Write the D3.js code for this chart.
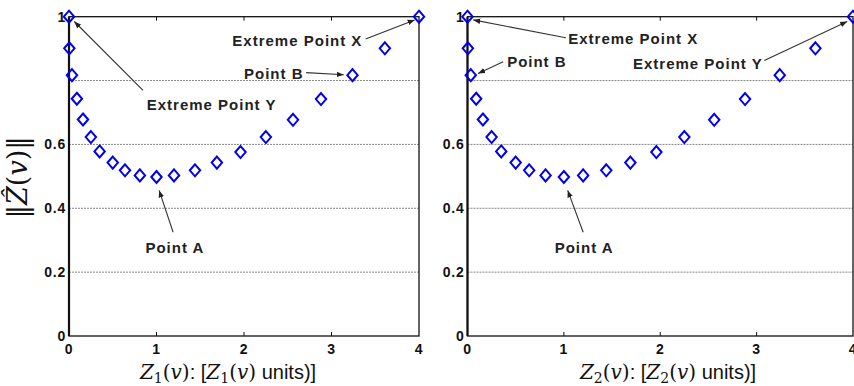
<!DOCTYPE html>
<html>
<head>
<meta charset="utf-8">
<script src="https://cdn.jsdelivr.net/npm/d3@7"></script>
<style>
  body { margin: 0; background: #fff; }
  svg { display: block; }
  .tick-lbl { font-family: "Liberation Sans", Arial, sans-serif; font-weight: bold; font-size: 14px; letter-spacing: 0.8px; fill: #111; }
  .note { font-family: "Liberation Sans", Arial, sans-serif; font-weight: bold; font-size: 15px; letter-spacing: 1px; fill: #222; }
</style>
</head>
<body>
<svg id="chart" width="854" height="386"></svg>
<script>
// same sampled curve is shown in both panels
var xVals = [0, 0.004, 0.034, 0.09, 0.16, 0.25, 0.35, 0.50, 0.64, 0.81, 1.0, 1.20, 1.44, 1.69, 1.96, 2.25, 2.56, 2.88, 3.24, 3.61, 4.0];
var yVals = [1.0, 0.901, 0.817, 0.743, 0.678, 0.623, 0.578, 0.543, 0.519, 0.503, 0.498, 0.503, 0.519, 0.543, 0.576, 0.623, 0.677, 0.742, 0.817, 0.901, 1.0];

var xTicks = [0, 1, 2, 3, 4];
var yTicks = [0, 0.2, 0.4, 0.6, 0.8, 1];
var yTickLabels = ["0", "0.2", "0.4", "0.6", "", "1"];
var gridVals = [0.2, 0.4, 0.6, 0.8];

// annotations: label, label x/y, arrow start, arrow end (data units)
var notesLeft = [
  {text: "Extreme Point X", x: 2.61, y: 0.925, x1: 3.39, y1: 0.93, x2: 3.95, y2: 0.99},
  {text: "Point B", x: 2.34, y: 0.822, x1: 2.71, y1: 0.825, x2: 3.14, y2: 0.818},
  {text: "Extreme Point Y", x: 1.63, y: 0.725, x1: 0.846, y1: 0.769, x2: 0.06, y2: 0.985},
  {text: "Point A", x: 1.21, y: 0.278, x1: 1.19, y1: 0.325, x2: 1.03, y2: 0.456}
];
var notesRight = [
  {text: "Extreme Point X", x: 1.72, y: 0.931, x1: 1.02, y1: 0.934, x2: 0.06, y2: 0.99},
  {text: "Point B", x: 0.72, y: 0.859, x1: 0.37, y1: 0.859, x2: 0.11, y2: 0.822},
  {text: "Extreme Point Y", x: 2.39, y: 0.853, x1: 3.08, y1: 0.8625, x2: 3.94, y2: 0.985},
  {text: "Point A", x: 1.21, y: 0.278, x1: 1.20, y1: 0.325, x2: 1.04, y2: 0.456}
];

var svg = d3.select("#chart");

svg.append("defs").append("marker")
  .attr("id", "arr")
  .attr("viewBox", "0 0 10 10")
  .attr("refX", 10).attr("refY", 5)
  .attr("markerWidth", 7).attr("markerHeight", 7)
  .attr("markerUnits", "userSpaceOnUse")
  .attr("orient", "auto")
  .append("path")
  .attr("d", "M0,1L10,5L0,9Z")
  .attr("fill", "#222");

var plotTop = 16.7, plotBottom = 336;
var serif = "'DejaVu Serif', 'Liberation Serif', serif";
var sans = "'Liberation Sans', Arial, sans-serif";

function drawPanel(left, right, sub, notes, titleX, yTitle) {
  var x = d3.scaleLinear().domain([0, 4]).range([left, right]);
  var y = d3.scaleLinear().domain([0, 1]).range([plotBottom, plotTop]);
  var g = svg.append("g");

  // dashed grid
  g.selectAll(".grid").data(gridVals).enter().append("line")
    .attr("x1", left).attr("x2", right)
    .attr("y1", function(d) { return y(d); })
    .attr("y2", function(d) { return y(d); })
    .attr("stroke", "#888").attr("stroke-width", 1)
    .attr("stroke-dasharray", "2,1");

  // box
  g.append("rect")
    .attr("x", left).attr("y", plotTop)
    .attr("width", right - left).attr("height", plotBottom - plotTop)
    .attr("fill", "none").attr("stroke", "#111").attr("stroke-width", 1.3);
  g.append("line").attr("x1", left).attr("x2", left).attr("y1", plotTop).attr("y2", plotBottom)
    .attr("stroke", "#111").attr("stroke-width", 2.2);

  // inward ticks top & bottom
  var inner = xTicks.slice(1, 4);
  g.selectAll(".tb").data(inner).enter().append("line")
    .attr("x1", function(d) { return x(d); }).attr("x2", function(d) { return x(d); })
    .attr("y1", plotBottom).attr("y2", plotBottom - 4)
    .attr("stroke", "#111");
  g.selectAll(".tt").data(inner).enter().append("line")
    .attr("x1", function(d) { return x(d); }).attr("x2", function(d) { return x(d); })
    .attr("y1", plotTop).attr("y2", plotTop + 4)
    .attr("stroke", "#111");

  // tick labels
  g.selectAll(".xl").data(xTicks).enter().append("text")
    .attr("class", "tick-lbl")
    .attr("x", function(d) { return x(d); })
    .attr("y", plotBottom + 18)
    .attr("text-anchor", "middle")
    .text(function(d) { return d; });
  g.selectAll(".yl").data(yTicks).enter().append("text")
    .attr("class", "tick-lbl")
    .attr("x", left - 3)
    .attr("y", function(d) { return y(d) + 5; })
    .attr("text-anchor", "end")
    .text(function(d, i) { return yTickLabels[i]; });

  // x title
  var t = g.append("text")
    .attr("x", titleX).attr("y", 379)
    .attr("text-anchor", "middle")
    .attr("font-size", 20).attr("fill", "#111");
  function part(txt, fam, style, dy, size) {
    var s = t.append("tspan").attr("font-family", fam).text(txt);
    if (style) s.attr("font-style", style);
    if (dy) s.attr("dy", dy);
    if (size) s.attr("font-size", size);
  }
  part("Z", serif, "italic");
  part(sub, serif, null, 4, 14);
  part("(", serif, null, -4);
  part("v", serif, "italic");
  part(")", serif);
  part(": [", sans);
  part("Z", serif, "italic");
  part(sub, serif, null, 4, 14);
  part("(", serif, null, -4);
  part("v", serif, "italic");
  part(")", serif);
  part(" units)]", sans);

  if (yTitle) {
    var yt = svg.append("text")
      .attr("transform", "translate(27," + ((plotTop + plotBottom) / 2 + 1) + ") rotate(-90)")
      .attr("text-anchor", "middle")
      .attr("font-family", serif)
      .attr("font-size", 27).attr("fill", "#111");
    yt.append("tspan").text("\u2016");
    yt.append("tspan").attr("font-style", "italic").text("Z\u0302");
    yt.append("tspan").text("(");
    yt.append("tspan").attr("font-style", "italic").text("v");
    yt.append("tspan").text(")\u2016");
  }

  // annotations
  g.selectAll(".arrow").data(notes).enter().append("line")
    .attr("x1", function(d) { return x(d.x1); }).attr("y1", function(d) { return y(d.y1); })
    .attr("x2", function(d) { return x(d.x2); }).attr("y2", function(d) { return y(d.y2); })
    .attr("stroke", "#333").attr("stroke-width", 1.1)
    .attr("marker-end", "url(#arr)");
  g.selectAll(".note").data(notes).enter().append("text")
    .attr("class", "note")
    .attr("x", function(d) { return x(d.x); })
    .attr("y", function(d) { return y(d.y) + 5.5; })
    .attr("text-anchor", "middle")
    .text(function(d) { return d.text; });

  // diamond markers
  g.selectAll(".pt").data(xVals).enter().append("path")
    .attr("d", "M0,-6L5.2,0L0,6L-5.2,0Z")
    .attr("transform", function(d, i) { return "translate(" + x(d) + "," + y(yVals[i]) + ")"; })
    .attr("fill", "none").attr("stroke", "#0000ee").attr("stroke-width", 2);
}

drawPanel(69, 419, "1", notesLeft, 228, true);
drawPanel(467.5, 853, "2", notesRight, 668, false);
</script>
</body>
</html>
